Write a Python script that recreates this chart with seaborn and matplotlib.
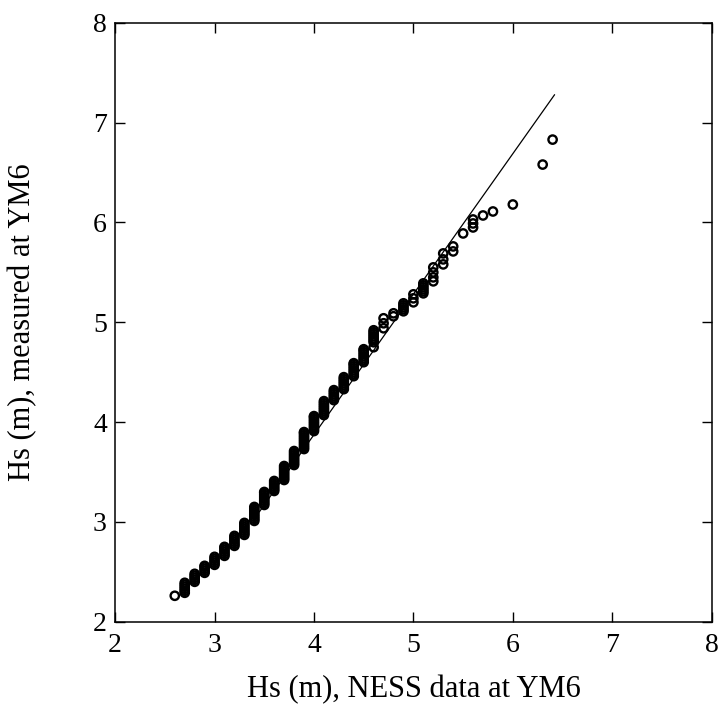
import numpy as np
import pandas as pd
import matplotlib
matplotlib.use("Agg")
import matplotlib.pyplot as plt
import seaborn as sns

# NESS hindcast quantile levels (x) and how many quantiles fall on each level
ness_levels = [2.6, 2.7, 2.8, 2.9, 3.0, 3.1, 3.2, 3.3, 3.4, 3.5, 3.6, 3.7, 3.8, 3.9,
               4.0, 4.1, 4.2, 4.3, 4.4, 4.5, 4.6, 4.7, 4.8, 4.9, 5.0, 5.1, 5.2, 5.3,
               5.4, 5.5, 5.6, 5.7, 5.8, 6.0, 6.3, 6.4]
ness_counts = [1, 6, 5, 5, 5, 6, 6, 7, 8, 8, 6, 8, 8, 10,
               9, 8, 6, 7, 8, 8, 8, 3, 2, 5, 3, 6, 4, 3,
               2, 1, 3, 1, 1, 1, 1, 1]

# measured quantiles at YM6 (sorted)
ym6_quantiles = [
    2.26,
    2.29, 2.31, 2.33, 2.35, 2.37, 2.39,
    2.40, 2.42, 2.44, 2.46, 2.48,
    2.49, 2.51, 2.53, 2.55, 2.56,
    2.57, 2.59, 2.61, 2.63, 2.65,
    2.66, 2.68, 2.70, 2.72, 2.74, 2.75,
    2.76, 2.78, 2.80, 2.82, 2.84, 2.86,
    2.87, 2.89, 2.91, 2.93, 2.95, 2.97, 2.99,
    3.01, 3.03, 3.05, 3.07, 3.09, 3.11, 3.13, 3.15,
    3.17, 3.19, 3.21, 3.23, 3.25, 3.27, 3.29, 3.30,
    3.31, 3.33, 3.35, 3.37, 3.39, 3.41,
    3.42, 3.44, 3.46, 3.48, 3.50, 3.52, 3.54, 3.56,
    3.57, 3.59, 3.61, 3.63, 3.65, 3.67, 3.69, 3.71,
    3.73, 3.75, 3.77, 3.79, 3.81, 3.83, 3.85, 3.87, 3.89, 3.90,
    3.91, 3.93, 3.95, 3.97, 3.99, 4.01, 4.03, 4.05, 4.06,
    4.07, 4.09, 4.11, 4.13, 4.15, 4.17, 4.19, 4.21,
    4.22, 4.24, 4.26, 4.28, 4.30, 4.32,
    4.33, 4.35, 4.37, 4.39, 4.41, 4.43, 4.45,
    4.46, 4.48, 4.50, 4.52, 4.54, 4.56, 4.58, 4.59,
    4.60, 4.62, 4.64, 4.66, 4.68, 4.70, 4.72, 4.73,
    4.75, 4.80, 4.82, 4.84, 4.86, 4.88, 4.90, 4.92,
    4.94, 4.99, 5.04,
    5.06, 5.09,
    5.11, 5.13, 5.15, 5.17, 5.19,
    5.20, 5.24, 5.28,
    5.29, 5.31, 5.33, 5.35, 5.37, 5.39,
    5.41, 5.45, 5.50, 5.55,
    5.58, 5.63, 5.69,
    5.71, 5.76,
    5.89,
    5.95, 5.99, 6.03,
    6.07,
    6.11,
    6.18,
    6.58,
    6.83,
]

# reference line end points
line_x = [3.45, 6.42]
line_y = [3.10, 7.28]

x_ticks = [2, 3, 4, 5, 6, 7, 8]
y_ticks = [2, 3, 4, 5, 6, 7, 8]
x_label = "Hs (m), NESS data at YM6"
y_label = "Hs (m), measured at YM6"

sns.set_theme(style="ticks")
plt.rcParams["font.family"] = ["Liberation Serif", "DejaVu Serif"]

df = pd.DataFrame({"ness": np.repeat(ness_levels, ness_counts),
                   "ym6": ym6_quantiles})
df_line = pd.DataFrame({"x": line_x, "y": line_y})

fig = plt.figure(figsize=(7.24, 7.13), dpi=100)
ax = fig.add_axes([0.159, 0.128, 0.824, 0.840])

sns.lineplot(data=df_line, x="x", y="y", ax=ax, color="black", linewidth=0.9,
             sort=False)
sns.scatterplot(data=df, x="ness", y="ym6", ax=ax, marker="o", s=36,
                facecolor="none", edgecolor="black", linewidth=1.7, zorder=3)

ax.set_xlim(2, 8)
ax.set_ylim(2, 8)
ax.set_xticks(x_ticks)
ax.set_yticks(y_ticks)
ax.tick_params(direction="in", length=7, width=1, top=True, right=True,
               labelsize=20, colors="black")
ax.tick_params(axis="x", pad=8)
ax.tick_params(axis="y", pad=6)
for sp in ax.spines.values():
    sp.set_linewidth(1.1)
    sp.set_color("black")
    sp.set_visible(True)
ax.set_xlabel(x_label, fontsize=22, labelpad=12, color="black")
ax.set_ylabel(y_label, fontsize=22, labelpad=40, color="black")
ax.grid(False)

fig.savefig("out.png", dpi=100, facecolor="white")
